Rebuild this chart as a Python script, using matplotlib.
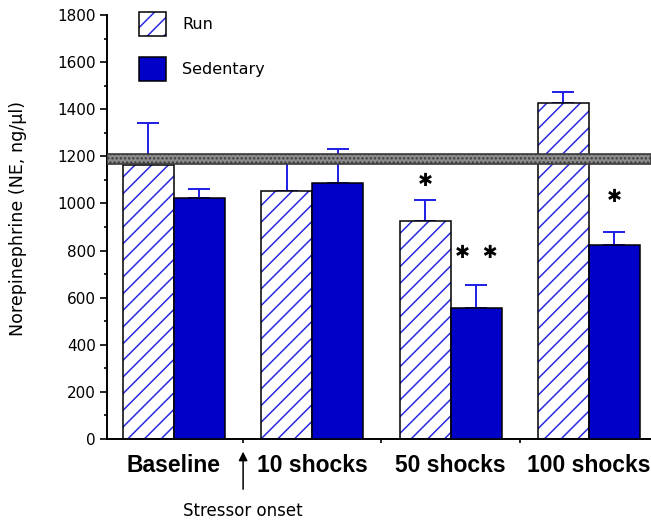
import matplotlib.pyplot as plt
from matplotlib.patches import Patch
import numpy as np

#Data (NE, ng/ul)
groups = ['Baseline', '10 shocks', '50 shocks', '100 shocks']
run_mean = [1165, 1054, 925, 1427]
run_err = [177, 120, 89, 47]
sed_mean = [1022, 1085, 556, 823]
sed_err = [38, 146, 98, 54]
#significance marks: (group, series, value)
stars = [(2, 'run', 1095, '✱'), (2, 'sed', 790, '✱  ✱'), (3, 'sed', 1028, '✱')]
band_low = 1167
band_high = 1210

run_hatch = '#2a2ae0'
sed_color = '#0000c8'
err_color = '#1e1ee6'

plt.rcParams['hatch.linewidth'] = 1.1

fig = plt.figure(figsize=(6.51, 5.22), dpi=100)
ax = fig.add_axes([107/651, 1-439/522, 1-107/651, (439-15)/522])

x = np.arange(len(groups))
w = 0.369

#run bars: blue hatch first, black outline on top
ax.bar(x - w/2, run_mean, w, facecolor='white', edgecolor=run_hatch, hatch='//', linewidth=0, zorder=2)
ax.bar(x - w/2, run_mean, w, fill=False, edgecolor='black', linewidth=1.1, zorder=3)
ax.bar(x + w/2, sed_mean, w, facecolor=sed_color, edgecolor='black', linewidth=1.1, zorder=3)

ax.errorbar(x - w/2, run_mean, yerr=[np.zeros(4), run_err], fmt='none', ecolor=err_color,
            elinewidth=1.4, capsize=8, capthick=1.4, zorder=1)
ax.errorbar(x + w/2, sed_mean, yerr=[np.zeros(4), sed_err], fmt='none', ecolor=err_color,
            elinewidth=1.4, capsize=8, capthick=1.4, zorder=1)

#grey reference band
ax.axhspan(band_low, band_high, facecolor='#8c8c8c', edgecolor='#3a3a3a', hatch='....',
           linewidth=1.2, zorder=4)

for g, s, v, txt in stars:
    xs = g - w/2 if s == 'run' else g + w/2
    ax.text(xs, v, txt, ha='center', va='center', fontsize=13, fontweight='bold',
            family='DejaVu Sans', zorder=5)

ax.set_xlim(-0.484, 3.449)
ax.set_ylim(0, 1800)
ax.set_yticks(np.arange(0, 1801, 200))
ax.set_yticks(np.arange(100, 1800, 200), minor=True)
ax.tick_params(axis='y', which='major', length=5, width=1.2, labelsize=11, pad=3)
ax.tick_params(axis='y', which='minor', length=2.2, width=1.2)

ax.set_xticks(x)
ax.set_xticklabels(groups, fontsize=16.5, fontweight='bold', family='Liberation Sans')
ax.set_xticks([0.5, 1.5, 2.5], minor=True)
ax.tick_params(axis='x', which='major', length=0, pad=11)
ax.tick_params(axis='x', which='minor', length=3, width=1.2)

for side in ['top', 'right']:
    ax.spines[side].set_visible(False)
for side in ['left', 'bottom']:
    ax.spines[side].set_linewidth(1.4)

ax.set_ylabel('Norepinephrine (NE, ng/µl)', fontsize=12.6)
ax.yaxis.set_label_coords(-0.147, 0.52)

#stressor onset arrow
ax.annotate('', xy=(0.5, -42), xytext=(0.5, -225), xycoords='data',
            arrowprops=dict(arrowstyle='-|>', color='black', lw=1.1, mutation_scale=13),
            annotation_clip=False)
ax.text(0.5, -305, 'Stressor onset', ha='center', va='center', fontsize=12, clip_on=False)

handles = [(Patch(facecolor='white', edgecolor=run_hatch, hatch='//', linewidth=0),
            Patch(fill=False, edgecolor='black', linewidth=1.1)),
           Patch(facecolor=sed_color, edgecolor='black', linewidth=1.1)]
ax.legend(handles, ['Run', 'Sedentary'], loc='upper left', bbox_to_anchor=(139/651, 1-12/522),
          bbox_transform=fig.transFigure, frameon=False, fontsize=11.5, borderpad=0,
          borderaxespad=0, handlelength=1.69, handleheight=1.95, labelspacing=1.3,
          handletextpad=1.0)

fig.savefig('out.png', dpi=100)
